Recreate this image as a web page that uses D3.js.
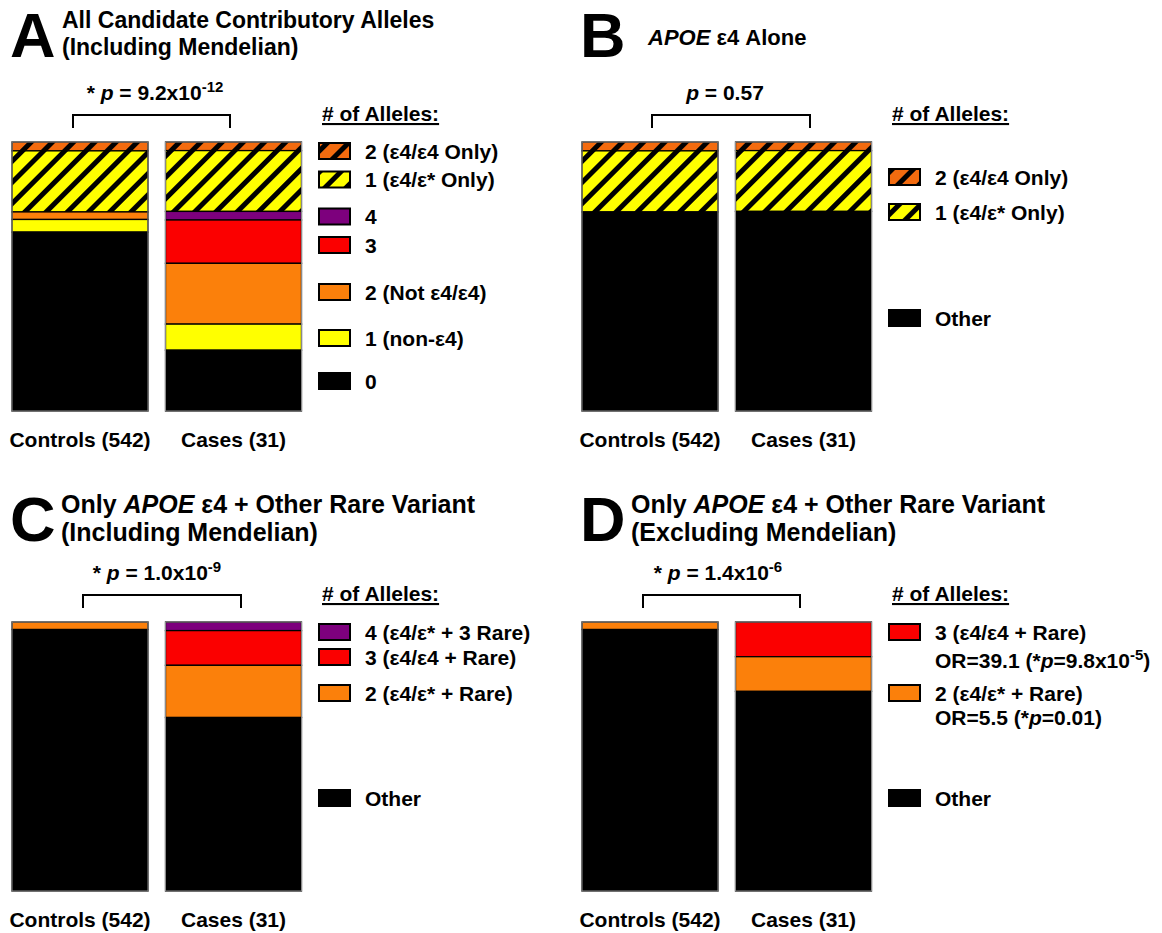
<!DOCTYPE html>
<html>
<head>
<meta charset="utf-8">
<script src="https://cdn.jsdelivr.net/npm/d3@7"></script>
<style>
  html, body { margin: 0; padding: 0; background: #fff; }
  svg text { font-family: "Liberation Sans", Arial, Helvetica, sans-serif; font-weight: bold; fill: #000; }
</style>
</head>
<body>
<svg id="chart" width="1162" height="933"></svg>
<script>
// ---------------- DATA ----------------
const groups = ["Controls (542)", "Cases (31)"];

const keysA = ["2 (ε4/ε4 Only)", "1 (ε4/ε* Only)", "4", "3", "2 (Not ε4/ε4)", "1 (non-ε4)", "0"];
const controlsA = [3.3, 22.7, 0, 0, 2.8, 4.7, 66.5];
const casesA = [3.2, 22.6, 3.2, 16.1, 22.6, 9.7, 22.6];

const keysB = ["2 (ε4/ε4 Only)", "1 (ε4/ε* Only)", "Other"];
const controlsB = [3.3, 22.7, 74.0];
const casesB = [3.2, 22.6, 74.2];

const keysC = ["4 (ε4/ε* + 3 Rare)", "3 (ε4/ε4 + Rare)", "2 (ε4/ε* + Rare)", "Other"];
const controlsC = [0, 0, 2.8, 97.2];
const casesC = [3.2, 12.9, 19.4, 64.5];

const keysD = ["3 (ε4/ε4 + Rare)", "2 (ε4/ε* + Rare)", "Other"];
const controlsD = [0, 2.8, 97.2];
const casesD = [12.9, 12.9, 74.2];

const panelLetters = ["A", "B", "C", "D"];
const pStars = ["* ", "", "* ", "* "];
const pMantissas = ["9.2x10", "0.57", "1.0x10", "1.4x10"];
const pExponents = ["-12", "", "-9", "-6"];
const legendTitle = "# of Alleles:";
const noteD = [
  {pre: "OR=39.1 (*", p: "p", post: "=9.8x10", sup: "-5", close: ")"},
  {pre: "OR=5.5 (*", p: "p", post: "=0.01", sup: "", close: ")"}
];

// ---------------- STYLES ----------------
const C_HORANGE = "#f36b0f", C_YELLOW = "#ffff00", C_PURPLE = "#7d007d",
      C_RED = "#fb0000", C_ORANGE = "#fb800b", C_BLACK = "#000000";
const FS = 21;

const svg = d3.select("#chart");
const defs = svg.append("defs");
function hatch(id, color) {
  const p = defs.append("pattern").attr("id", id)
    .attr("patternUnits", "userSpaceOnUse").attr("width", 15).attr("height", 15)
    .attr("patternTransform", "rotate(45)");
  p.append("rect").attr("width", 15).attr("height", 15).attr("fill", color);
  p.append("rect").attr("width", 5).attr("height", 15).attr("fill", "#000");
}
hatch("hOrange", C_HORANGE);
hatch("hYellow", C_YELLOW);

const panels = [
  { ox: 0, oy: 0, keys: keysA, vals: [controlsA, casesA],
    fills: ["url(#hOrange)", "url(#hYellow)", C_PURPLE, C_RED, C_ORANGE, C_YELLOW, C_BLACK],
    title: [[{t: "All Candidate Contributory Alleles"}], [{t: "(Including Mendelian)"}]], titleX: 62, titleY: [28, 55], tfs: 23,
    pX: 155, br: [73, 230], rows: [151, 179.5, 216.5, 245, 292, 338, 381], lx: 319 },
  { ox: 570, oy: 0, keys: keysB, vals: [controlsB, casesB],
    fills: ["url(#hOrange)", "url(#hYellow)", C_BLACK],
    title: [[{t: "APOE", i: true}, {t: " ε4 Alone"}]], titleX: 78, titleY: [45], tfs: 22,
    pX: 155, br: [82, 240], rows: [177, 212, 318], lx: 319 },
  { ox: 0, oy: 480, keys: keysC, vals: [controlsC, casesC],
    fills: [C_PURPLE, C_RED, C_ORANGE, C_BLACK],
    title: [[{t: "Only "}, {t: "APOE", i: true}, {t: " ε4 + Other Rare Variant"}], [{t: "(Including Mendelian)"}]], titleX: 61, titleY: [33, 61], tfs: 25,
    pX: 157, br: [83, 241], rows: [152, 177, 213, 318], lx: 319 },
  { ox: 570, oy: 480, keys: keysD, vals: [controlsD, casesD],
    fills: [C_RED, C_ORANGE, C_BLACK],
    title: [[{t: "Only "}, {t: "APOE", i: true}, {t: " ε4 + Other Rare Variant"}], [{t: "(Excluding Mendelian)"}]], titleX: 61, titleY: [33, 61], tfs: 25,
    pX: 148, br: [73, 230], rows: [152, 213, 318], lx: 319, notes: [180, 237] }
];

panels.forEach((P, pi) => {
  const g = svg.append("g").attr("transform", `translate(${P.ox},${P.oy})`);

  // Panel letter
  g.append("text").attr("x", 10).attr("y", 57 + (pi >= 2 ? 4 : 0))
    .style("font-size", "63px").text(panelLetters[pi]);

  // Title lines
  P.title.forEach((line, li) => {
    const t = g.append("text").attr("x", P.titleX).attr("y", P.titleY[li]).style("font-size", P.tfs + "px");
    line.forEach(s => {
      const ts = t.append("tspan").text(s.t);
      if (s.i) ts.style("font-style", "italic");
    });
  });

  // Scales
  const x = d3.scaleBand().domain(groups).range([12, 301.5]).paddingInner(0.114).paddingOuter(0);
  const y = d3.scaleLinear().domain([0, 100]).range([142, 411]);

  const table = groups.map((grp, i) => {
    const o = {group: grp};
    P.keys.forEach((k, j) => { o[k] = P.vals[i][j]; });
    return o;
  });
  const series = d3.stack().keys(P.keys)(table);

  series.forEach((s, si) => {
    g.append("g").selectAll("rect").data(s.filter(d => d[1] - d[0] > 0)).join("rect")
      .attr("x", d => x(d.data.group))
      .attr("y", d => y(d[0]))
      .attr("width", x.bandwidth())
      .attr("height", d => y(d[1]) - y(d[0]))
      .attr("fill", P.fills[si])
      .attr("stroke", "#000").attr("stroke-width", 1.3);
  });
  // outer bar border
  g.append("g").selectAll("rect").data(groups).join("rect")
    .attr("x", d => x(d)).attr("y", y(0)).attr("width", x.bandwidth()).attr("height", y(100) - y(0))
    .attr("fill", "none").attr("stroke", "#8a8a8a").attr("stroke-width", 1);

  // x axis labels
  const ax = g.append("g").attr("transform", `translate(0,${y(100)})`)
    .call(d3.axisBottom(x).tickSize(0).tickPadding(21));
  ax.select(".domain").remove();
  ax.selectAll("text").style("font-size", FS + "px")
    .style("font-family", "'Liberation Sans', Arial, sans-serif").style("font-weight", "bold").attr("fill", "#000");

  // p value
  const pt = g.append("text").attr("x", P.pX).attr("y", 100).attr("text-anchor", "middle").style("font-size", FS + "px");
  if (pStars[pi]) pt.append("tspan").text(pStars[pi]);
  pt.append("tspan").style("font-style", "italic").text("p");
  pt.append("tspan").text(" = " + pMantissas[pi]);
  if (pExponents[pi]) pt.append("tspan").attr("dy", -8).style("font-size", "15px").text(pExponents[pi]);

  // bracket
  g.append("path")
    .attr("d", `M${P.br[0]},128V115H${P.br[1]}V128`)
    .attr("fill", "none").attr("stroke", "#000").attr("stroke-width", 2);

  // legend
  g.append("text").attr("x", 322).attr("y", 121).style("font-size", FS + "px")
    .style("text-decoration", "underline").text(legendTitle);
  P.keys.forEach((k, ki) => {
    const ry = P.rows[ki];
    g.append("rect").attr("x", P.lx).attr("y", ry - 8).attr("width", 31).attr("height", 16)
      .attr("fill", P.fills[ki]).attr("stroke", "#000").attr("stroke-width", 2);
    g.append("text").attr("x", 365).attr("y", ry).attr("dy", "0.36em").style("font-size", FS + "px").text(k);
  });
  if (P.notes) {
    P.notes.forEach((ny, ni) => {
      const n = noteD[ni];
      const t = g.append("text").attr("x", 365).attr("y", ny).attr("dy", "0.36em").style("font-size", FS + "px");
      t.append("tspan").text(n.pre);
      t.append("tspan").style("font-style", "italic").text(n.p);
      t.append("tspan").text(n.post);
      if (n.sup) {
        t.append("tspan").attr("dy", -8).style("font-size", "15px").text(n.sup);
        t.append("tspan").attr("dy", 8).text(n.close);
      } else {
        t.append("tspan").text(n.close);
      }
    });
  }
});
</script>
</body>
</html>
